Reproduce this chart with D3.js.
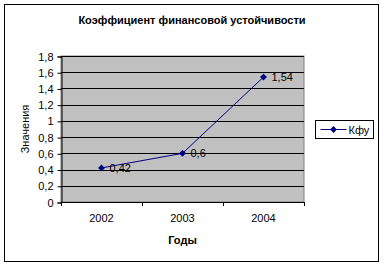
<!DOCTYPE html>
<html>
<head>
<meta charset="utf-8">
<script src="https://cdn.jsdelivr.net/npm/d3@7"></script>
<style>
  body { margin: 0; background: #fff; }
  svg text { font-family: "Liberation Sans", Arial, sans-serif; fill: #000; }
</style>
</head>
<body>
<div id="chart"></div>
<script>
// data
const years = ["2002", "2003", "2004"];
const kfu = [0.42, 0.6, 1.54];
const yTicks = [0, 0.2, 0.4, 0.6, 0.8, 1, 1.2, 1.4, 1.6, 1.8];
const seriesName = "Кфу";

const W = 384, H = 267;
const plot = { left: 61, right: 304, top: 56, bottom: 202 };

const svg = d3.select("#chart").append("svg")
    .attr("width", W)
    .attr("height", H);

// outer frame
svg.append("rect")
    .attr("x", 4.5).attr("y", 4.5)
    .attr("width", 374).attr("height", 257)
    .attr("fill", "#fff")
    .attr("stroke", "#000");

const x = d3.scalePoint()
    .domain(years)
    .range([plot.left, plot.right])
    .padding(0.5);

const y = d3.scaleLinear()
    .domain([0, 1.8])
    .range([plot.bottom, plot.top]);

// plot area
svg.append("rect")
    .attr("x", plot.left).attr("y", plot.top)
    .attr("width", plot.right - plot.left)
    .attr("height", plot.bottom - plot.top)
    .attr("fill", "#c0c0c0")
    .attr("stroke", "#808080");

// grid lines
svg.selectAll("line.grid")
    .data(yTicks.filter(d => d > 0))
    .enter().append("line")
    .attr("class", "grid")
    .attr("x1", plot.left).attr("x2", plot.right)
    .attr("y1", d => Math.round(y(d)) + 0.5)
    .attr("y2", d => Math.round(y(d)) + 0.5)
    .attr("stroke", "#000");

const fmt = d => String(d).replace(".", ",");

// y axis
const yAxis = d3.axisLeft(y)
    .tickValues(yTicks)
    .tickSize(4)
    .tickPadding(4)
    .tickFormat(fmt);

svg.append("g")
    .attr("transform", `translate(${plot.left + 0.5},0.5)`)
    .call(yAxis)
    .call(g => g.select(".domain").attr("stroke", "#000"))
    .call(g => g.selectAll("text").attr("font-size", 11).attr("font-family", "Liberation Sans, Arial"));

// x axis: ticks between categories
const step = x.step();
const xEdges = [plot.left, plot.left + step, plot.left + 2 * step, plot.right];
const xg = svg.append("g");
xg.append("line")
    .attr("x1", plot.left).attr("x2", plot.right)
    .attr("y1", plot.bottom + 0.5).attr("y2", plot.bottom + 0.5)
    .attr("stroke", "#000");
xg.selectAll("line.tick")
    .data(xEdges)
    .enter().append("line")
    .attr("x1", d => Math.round(d) + 0.5).attr("x2", d => Math.round(d) + 0.5)
    .attr("y1", plot.bottom).attr("y2", plot.bottom + 4)
    .attr("stroke", "#000");
xg.selectAll("text")
    .data(years)
    .enter().append("text")
    .attr("x", d => x(d))
    .attr("y", 222)
    .attr("text-anchor", "middle")
    .attr("font-size", 11)
    .text(d => d);

// axis titles
svg.append("text")
    .attr("x", plot.left + (plot.right - plot.left) / 2)
    .attr("y", 244)
    .attr("text-anchor", "middle")
    .attr("font-size", 11)
    .attr("font-weight", "bold")
    .text("Годы");

svg.append("text")
    .attr("transform", `translate(29,${(plot.top + plot.bottom) / 2}) rotate(-90)`)
    .attr("text-anchor", "middle")
    .attr("font-size", 11)
    .text("Значения");

// title
svg.append("text")
    .attr("x", 192)
    .attr("y", 24)
    .attr("text-anchor", "middle")
    .attr("font-size", 11)
    .attr("font-weight", "bold")
    .text("Коэффициент финансовой устойчивости");

// series line
const pts = years.map((yr, i) => ({ yr: yr, v: kfu[i] }));
svg.append("path")
    .datum(pts)
    .attr("fill", "none")
    .attr("stroke", "#000080")
    .attr("d", d3.line().x(d => x(d.yr)).y(d => y(d.v)));

const diamond = d3.symbol().type(d3.symbolDiamond2).size(30);
svg.selectAll("path.marker")
    .data(pts)
    .enter().append("path")
    .attr("class", "marker")
    .attr("transform", d => `translate(${x(d.yr)},${y(d.v)})`)
    .attr("d", diamond)
    .attr("fill", "#000080");

// data labels
svg.selectAll("text.dl")
    .data(pts)
    .enter().append("text")
    .attr("class", "dl")
    .attr("x", d => x(d.yr) + 8)
    .attr("y", d => y(d.v) + 4)
    .attr("font-size", 11)
    .text(d => fmt(d.v));

// legend
const lg = svg.append("g").attr("transform", "translate(315.5,120.5)");
lg.append("rect")
    .attr("width", 58).attr("height", 18)
    .attr("fill", "#fff").attr("stroke", "#000");
lg.append("line")
    .attr("x1", 5).attr("x2", 31).attr("y1", 9).attr("y2", 9)
    .attr("stroke", "#000080");
lg.append("path")
    .attr("transform", "translate(18,9)")
    .attr("d", diamond)
    .attr("fill", "#000080");
lg.append("text")
    .attr("x", 33).attr("y", 13)
    .attr("font-size", 11)
    .text(seriesName);
</script>
</body>
</html>
